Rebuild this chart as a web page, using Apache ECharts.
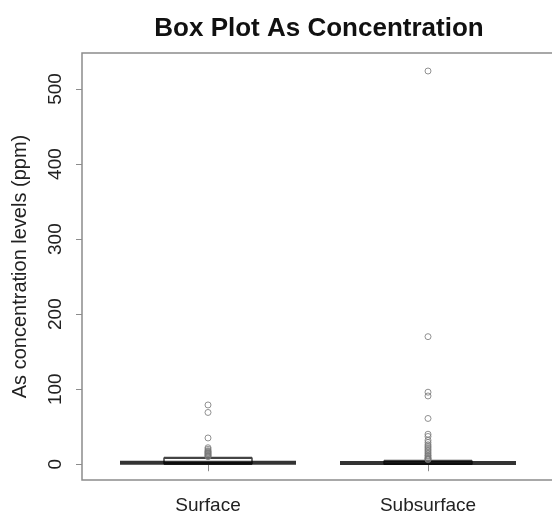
<!DOCTYPE html>
<html>
<head>
<meta charset="utf-8">
<script src="https://cdn.jsdelivr.net/npm/echarts@6/dist/echarts.min.js"></script>
<style>
  html, body { margin: 0; padding: 0; background: #fff; }
  #main { width: 552px; height: 514px; }
</style>
</head>
<body>
<div id="main"></div>
<script>
var categories = ['Surface', 'Subsurface'];
// [lower whisker, Q1, median, Q3, upper whisker]
var boxSurface = [0, 1, 2, 8, 9];
var boxSubsurface = [0, 0.5, 1.5, 4, 5];
var medians = [2, 1.5];
var outSurface = [79, 69, 35, 22, 20, 18, 17, 16, 15, 14, 13, 12, 11, 10];
var outSubsurface = [524, 170, 96, 91, 61, 40, 37, 32, 29, 26, 24, 22, 20, 18, 16, 14, 12, 11, 9, 8, 7, 6];
var yTicks = [0, 100, 200, 300, 400, 500];

var chart = echarts.init(document.getElementById('main'));

var outliers = [];
outSurface.forEach(function (v) { outliers.push([0, v]); });
outSubsurface.forEach(function (v) { outliers.push([1, v]); });

var option = {
  backgroundColor: '#fff',
  animation: false,
  title: {
    text: 'Box Plot As Concentration',
    left: 314,
    top: 11,
    textAlign: 'center',
    textStyle: {
      fontFamily: 'Liberation Sans',
      fontWeight: 'bold',
      fontSize: 26,
      color: '#111'
    }
  },
  grid: [
    // frame, runs past the right edge like the cropped original
    { left: 82, top: 53, width: 474, height: 427, show: true, borderColor: '#8c8c8c', borderWidth: 1.5, outerBoundsMode: 'none' },
    { left: 98, top: 53, width: 440, height: 427, outerBoundsMode: 'none' }
  ],
  xAxis: [
    { type: 'value', gridIndex: 0, show: false, min: 0, max: 1 },
    {
      type: 'category',
      gridIndex: 1,
      data: categories,
      axisLine: { show: false },
      axisTick: { show: true, alignWithLabel: true, length: 7, lineStyle: { color: '#8c8c8c' } },
      axisLabel: { margin: 16, fontFamily: 'Liberation Sans', fontSize: 19, color: '#222' },
      splitLine: { show: false }
    }
  ],
  yAxis: [
    {
      type: 'value',
      gridIndex: 0,
      min: -21,
      max: 548,
      name: 'As concentration levels (ppm)',
      nameLocation: 'middle',
      nameGap: 52,
      nameRotate: 90,
      nameTextStyle: { fontFamily: 'Liberation Sans', fontSize: 20, color: '#222' },
      axisLine: { show: false },
      axisTick: { show: true, length: 6, customValues: yTicks, lineStyle: { color: '#8c8c8c' } },
      axisLabel: { rotate: 90, margin: 17, customValues: yTicks, fontFamily: 'Liberation Sans', fontSize: 19, color: '#222' },
      splitLine: { show: false }
    },
    { type: 'value', gridIndex: 1, min: -21, max: 548, show: false }
  ],
  series: [
    {
      type: 'boxplot',
      xAxisIndex: 1,
      yAxisIndex: 1,
      boxWidth: ['40%', '40%'],
      data: [boxSurface, boxSubsurface],
      itemStyle: { color: 'transparent', borderColor: '#444', borderWidth: 1.5 }
    },
    {
      // heavy median bars, R style
      type: 'scatter',
      xAxisIndex: 1,
      yAxisIndex: 1,
      symbol: 'rect',
      symbolSize: [176, 4],
      data: medians.map(function (v, i) { return [i, v]; }),
      itemStyle: { color: '#000' },
      z: 3
    },
    {
      type: 'scatter',
      xAxisIndex: 1,
      yAxisIndex: 1,
      symbol: 'circle',
      symbolSize: 6,
      data: outliers,
      itemStyle: { color: 'transparent', borderColor: '#777', borderWidth: 1 },
      z: 4
    }
  ]
};

chart.setOption(option);
</script>
</body>
</html>
